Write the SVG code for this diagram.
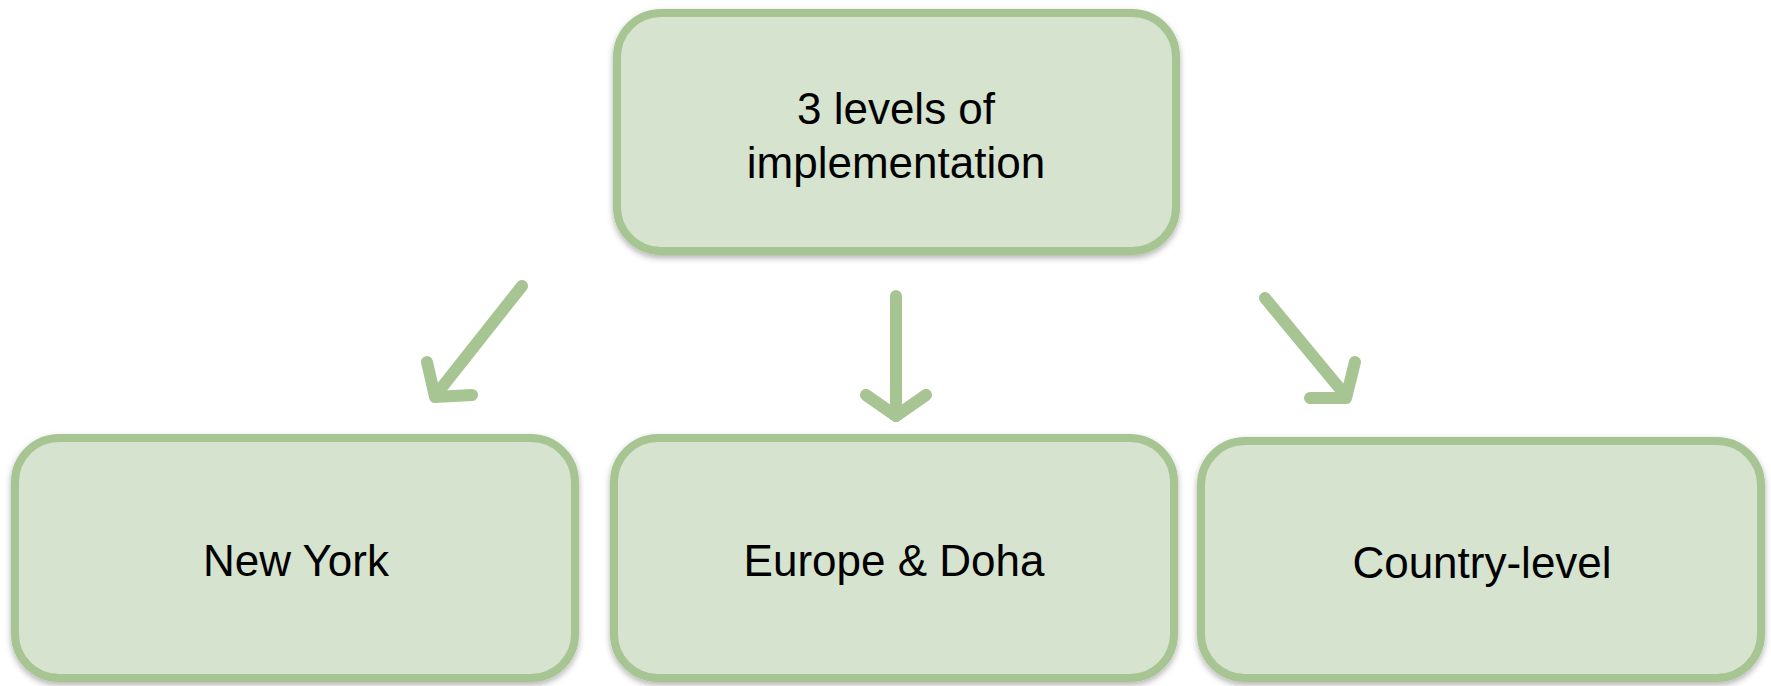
<svg xmlns="http://www.w3.org/2000/svg" width="1771" height="686" viewBox="0 0 1771 686">
<style>
.box{fill:#D6E3CE;stroke:#A7C592;stroke-width:8;filter:url(#sh)}
.lbl{font-family:"Liberation Sans",Arial,sans-serif;font-size:44px;fill:#000;text-anchor:middle}
.arr{fill:none;stroke:#A7C592;stroke-width:12;stroke-linecap:round;stroke-linejoin:round}
</style>
<defs>
<filter id="sh" x="-5%" y="-5%" width="110%" height="115%">
<feDropShadow dx="0" dy="3" stdDeviation="3" flood-color="#000" flood-opacity="0.3"/>
</filter>
</defs>
<g id="top">
<rect class="box" x="617" y="13" width="559" height="238" rx="44"/>
<text class="lbl" x="896" y="124">3 levels of</text>
<text class="lbl" x="896" y="178">implementation</text>
</g>
<g id="newyork">
<rect class="box" x="15" y="438" width="560" height="240" rx="44"/>
<text class="lbl" x="296" y="576">New York</text>
</g>
<g id="europe">
<rect class="box" x="614" y="438" width="560" height="240" rx="44"/>
<text class="lbl" x="894" y="576">Europe &amp; Doha</text>
</g>
<g id="country">
<rect class="box" x="1201" y="441" width="560" height="237" rx="44"/>
<text class="lbl" x="1482" y="578">Country-level</text>
</g>
<g id="connectors">
<path class="arr" d="M522,286 L435,396 M427,362 L435,397 L472,395"/>
<path class="arr" d="M896,296 L896,416 M866,395 L896,416 L926,395"/>
<path class="arr" d="M1265,298 L1346,396 M1355,362 L1346,398 L1310,398"/>
</g>
</svg>
